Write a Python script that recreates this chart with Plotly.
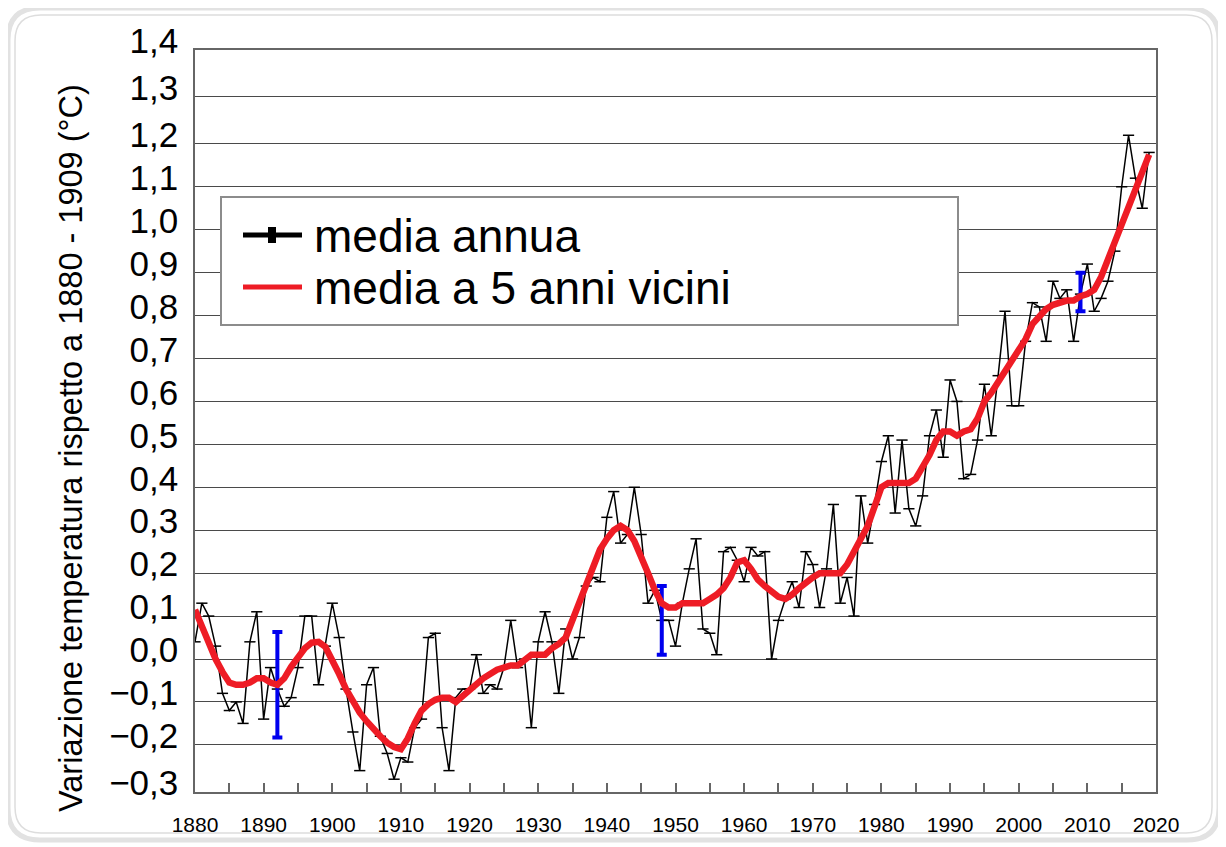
import plotly.graph_objects as go

# ---------------- data ----------------
years = list(range(1880, 2020))

annual = [
    0.04, 0.13, 0.10, 0.03, -0.08, -0.12, -0.10, -0.15, 0.04, 0.11,      # 1880s
    -0.14, -0.02, -0.07, -0.11, -0.09, -0.02, 0.10, 0.10, -0.06, 0.03,   # 1890s
    0.13, 0.05, -0.07, -0.17, -0.26, -0.06, -0.02, -0.18, -0.22, -0.28,  # 1900s
    -0.23, -0.24, -0.16, -0.14, 0.05, 0.06, -0.16, -0.26, -0.09, -0.07,  # 1910s
    -0.07, 0.01, -0.08, -0.06, -0.07, -0.02, 0.09, -0.02, 0.00, -0.16,   # 1920s
    0.04, 0.11, 0.04, -0.08, 0.07, 0.00, 0.05, 0.17, 0.19, 0.18,         # 1930s
    0.33, 0.39, 0.27, 0.29, 0.40, 0.29, 0.13, 0.16, 0.09, 0.09,          # 1940s
    0.03, 0.13, 0.21, 0.28, 0.07, 0.06, 0.01, 0.25, 0.26, 0.23,          # 1950s
    0.18, 0.26, 0.24, 0.25, 0.00, 0.09, 0.14, 0.18, 0.12, 0.25,          # 1960s
    0.22, 0.12, 0.21, 0.36, 0.13, 0.19, 0.10, 0.38, 0.27, 0.36,          # 1970s
    0.46, 0.52, 0.34, 0.51, 0.35, 0.31, 0.38, 0.52, 0.58, 0.47,          # 1980s
    0.65, 0.60, 0.42, 0.43, 0.51, 0.64, 0.52, 0.66, 0.81, 0.59,          # 1990s
    0.59, 0.74, 0.83, 0.82, 0.74, 0.88, 0.84, 0.86, 0.74, 0.85,          # 2000s
    0.92, 0.81, 0.84, 0.88, 0.95, 1.10, 1.22, 1.12, 1.05, 1.18,          # 2010s
]

smooth5 = [
    0.115, 0.075, 0.037, 0.0, -0.03, -0.055, -0.06, -0.06, -0.055, -0.045,       # 1880s
    -0.045, -0.055, -0.06, -0.045, -0.018, 0.005, 0.025, 0.038, 0.04, 0.028,     # 1890s
    0.0, -0.035, -0.07, -0.10, -0.125, -0.145, -0.165, -0.18, -0.195, -0.205,    # 1900s
    -0.21, -0.185, -0.15, -0.12, -0.105, -0.095, -0.09, -0.09, -0.10, -0.085,    # 1910s
    -0.07, -0.055, -0.045, -0.035, -0.025, -0.02, -0.015, -0.015, 0.0, 0.01,     # 1920s
    0.01, 0.01, 0.025, 0.035, 0.05, 0.09, 0.13, 0.17, 0.22, 0.255,               # 1930s
    0.28, 0.30, 0.31, 0.30, 0.275, 0.24, 0.20, 0.16, 0.13, 0.12,                 # 1940s
    0.12, 0.13, 0.13, 0.13, 0.13, 0.14, 0.15, 0.165, 0.19, 0.225,                # 1950s
    0.23, 0.21, 0.185, 0.17, 0.155, 0.145, 0.14, 0.15, 0.165, 0.18,              # 1960s
    0.19, 0.20, 0.20, 0.20, 0.20, 0.22, 0.25, 0.28, 0.31, 0.355,                 # 1970s
    0.40, 0.41, 0.41, 0.41, 0.41, 0.42, 0.445, 0.475, 0.51, 0.53,                # 1980s
    0.53, 0.52, 0.53, 0.535, 0.56, 0.60, 0.62, 0.645, 0.67, 0.70,                # 1990s
    0.72, 0.745, 0.78, 0.80, 0.815, 0.825, 0.83, 0.835, 0.835, 0.845,            # 2000s
    0.85, 0.86, 0.89, 0.93, 0.98, 1.02, 1.06, 1.10, 1.14, 1.175,                 # 2010s
]

err_years = [1892, 1948, 2009]
err_center = [-0.06, 0.09, 0.855]
err_half = [0.123, 0.08, 0.045]

y_tick_vals = [-0.3097, -0.2, -0.1, 0.0, 0.1, 0.2, 0.3, 0.4, 0.5, 0.6, 0.7,
               0.8, 0.9, 1.0, 1.1, 1.2, 1.31, 1.4185]
y_tick_text = ["\u22120,3", "\u22120,2", "\u22120,1", "0,0", "0,1", "0,2", "0,3",
               "0,4", "0,5", "0,6", "0,7", "0,8", "0,9", "1,0", "1,1", "1,2",
               "1,3", "1,4"]
x_tick_vals = list(range(1880, 2021, 10))

legend_labels = ["media annua", "media a 5 anni vicini"]
y_title = "Variazione temperatura rispetto a 1880 - 1909 (\u00b0C)"

# ---------------- layout helpers ----------------
OFF = 8                       # page body margin
W, H = 1218, 839              # figure size
L, R, T, B = 195, 1156, 50, 792   # plot area in page pixels
FONT = "Liberation Sans, Arial, sans-serif"
RED = "#ee1c25"


def px(x):
    return (x - L) / (R - L)


def py(y):
    return (B - y) / (B - T)


def rounded(x0, y0, x1, y1, r):
    pts = [
        f"M {px(x0 + r)},{py(y0)}",
        f"L {px(x1 - r)},{py(y0)}",
        f"Q {px(x1)},{py(y0)} {px(x1)},{py(y0 + r)}",
        f"L {px(x1)},{py(y1 - r)}",
        f"Q {px(x1)},{py(y1)} {px(x1 - r)},{py(y1)}",
        f"L {px(x0 + r)},{py(y1)}",
        f"Q {px(x0)},{py(y1)} {px(x0)},{py(y1 - r)}",
        f"L {px(x0)},{py(y0 + r)}",
        f"Q {px(x0)},{py(y0)} {px(x0 + r)},{py(y0)} Z",
    ]
    return " ".join(pts)


fig = go.Figure()

fig.add_trace(go.Scatter(
    x=years, y=annual, mode="lines+markers",
    line=dict(color="black", width=1.5),
    marker=dict(symbol="line-ew", size=8, line=dict(color="black", width=1.5)),
    showlegend=False, hoverinfo="x+y",
))

fig.add_trace(go.Scatter(
    x=err_years, y=err_center, mode="markers",
    marker=dict(size=1, color="rgba(0,0,0,0)"),
    error_y=dict(type="data", array=err_half, visible=True,
                 color="#0000ee", thickness=4, width=5),
    showlegend=False, hoverinfo="skip",
))

fig.add_trace(go.Scatter(
    x=years, y=smooth5, mode="lines",
    line=dict(color=RED, width=6.5),
    showlegend=False, hoverinfo="x+y",
))

shapes = [
    # outer rounded frame
    dict(type="path", xref="paper", yref="paper", path=rounded(8, 8, 1219, 840, 32),
         line=dict(color="#e2e2e2", width=5), layer="below"),
    dict(type="path", xref="paper", yref="paper", path=rounded(15, 15, 1212, 833, 26),
         line=dict(color="#dddddd", width=1.5), layer="below"),
    # legend box
    dict(type="rect", xref="paper", yref="paper",
         x0=px(221), x1=px(958), y0=py(197), y1=py(325),
         line=dict(color="#8c8c8c", width=2), fillcolor="white", layer="above"),
    dict(type="line", xref="paper", yref="paper",
         x0=px(243), x1=px(302), y0=py(235), y1=py(235),
         line=dict(color="black", width=5), layer="above"),
    dict(type="rect", xref="paper", yref="paper",
         x0=px(268), x1=px(276), y0=py(227), y1=py(243),
         line=dict(width=0), fillcolor="black", layer="above"),
    dict(type="line", xref="paper", yref="paper",
         x0=px(243), x1=px(302), y0=py(287), y1=py(287),
         line=dict(color=RED, width=5), layer="above"),
]

annotations = [
    dict(xref="paper", yref="paper", x=px(312), y=py(236), text=legend_labels[0],
         showarrow=False, xanchor="left", yanchor="middle",
         font=dict(family=FONT, size=46, color="black")),
    dict(xref="paper", yref="paper", x=px(312), y=py(288), text=legend_labels[1],
         showarrow=False, xanchor="left", yanchor="middle",
         font=dict(family=FONT, size=46, color="black")),
    dict(xref="paper", yref="paper", x=px(71), y=py(448), text=y_title,
         showarrow=False, textangle=-90, xanchor="center", yanchor="middle",
         font=dict(family=FONT, size=32.5, color="black")),
]

fig.update_layout(
    width=W, height=H,
    margin=dict(l=L - OFF, r=W - (R - OFF), t=T - OFF, b=H - (B - OFF)),
    paper_bgcolor="white", plot_bgcolor="white",
    font=dict(family=FONT, color="black"),
    shapes=shapes, annotations=annotations,
    showlegend=False,
)

fig.update_xaxes(
    range=[1880, 2020], tickvals=x_tick_vals, ticktext=[str(v) for v in x_tick_vals],
    showgrid=False, zeroline=False,
    showline=True, linecolor="#666666", linewidth=1.5, mirror=True,
    ticks="inside", ticklen=9, tickcolor="#666666", tickwidth=1.5,
    minor=dict(ticks="inside", ticklen=9, dtick=5, tick0=1880,
               tickcolor="#666666", tickwidth=1.5, showgrid=False),
    tickfont=dict(family=FONT, size=21, color="black"),
    ticklabelstandoff=13,
)

fig.update_yaxes(
    range=[-0.3098, 1.4186], tickvals=y_tick_vals, ticktext=y_tick_text,
    showgrid=True, gridcolor="#4a4a4a", gridwidth=1, zeroline=False,
    showline=True, linecolor="#666666", linewidth=1.5, mirror=True,
    ticks="", tickfont=dict(family=FONT, size=35, color="black"),
    ticklabelshift=-9, ticklabelstandoff=8,
)

fig.write_html("out.html")
